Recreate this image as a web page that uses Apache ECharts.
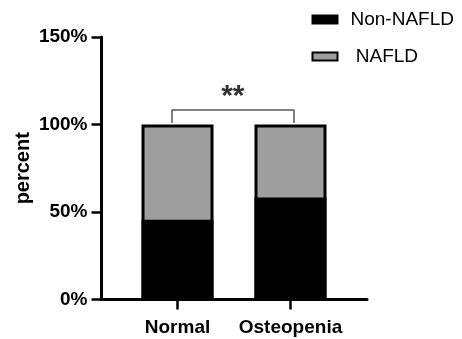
<!DOCTYPE html>
<html>
<head>
<meta charset="utf-8">
<script src="https://cdn.jsdelivr.net/npm/echarts@6/dist/echarts.min.js"></script>
<style>html,body{margin:0;padding:0;background:#fff}#c{width:462px;height:339px}</style>
</head>
<body>
<div id="c"></div>
<script>
const categories = ['Normal', 'Osteopenia'];
const nonNafld = [45.6, 58.3];
const nafld = [54.4, 41.7];
const seriesNames = ['Non-NAFLD', 'NAFLD'];
const yTicks = [0, 50, 100, 150];
const significance = '**';

const FONT = 'Liberation Sans, Arial, Helvetica, sans-serif';
const chart = echarts.init(document.getElementById('c'), null, {renderer: 'canvas'});
const catIdx = categories.map((_, i) => i);
// NAFLD sits on top of Non-NAFLD: draw its bar from 0 to the running total, Non-NAFLD drawn over it
const nafldTop = nafld.map((v, i) => v + nonNafld[i]);

chart.setOption({
  animation: false,
  backgroundColor: '#fff',
  grid: {left: 101.5, right: 95, top: 37, bottom: 39.5, containLabel: false},
  legend: {
    orient: 'vertical',
    left: 306.5,
    top: 4.5,
    itemWidth: 25,
    itemHeight: 8,
    itemGap: 17,
    icon: 'rect',
    data: seriesNames,
    formatter: n => n === 'NAFLD' ? ' NAFLD' : n,
    textStyle: {fontFamily: FONT, fontSize: 19, color: '#000', lineHeight: 20, padding: [0, 0, 0, 8]}
  },
  xAxis: {
    type: 'value',
    min: -0.6726,
    max: 1.677,
    splitLine: {show: false},
    axisLine: {show: true, onZero: false, lineStyle: {color: '#000', width: 3}},
    axisTick: {show: true, customValues: catIdx, length: 10, lineStyle: {color: '#000', width: 2.5}},
    axisLabel: {
      customValues: catIdx,
      formatter: v => categories[Math.round(v)] || '',
      fontFamily: FONT, fontSize: 19, fontWeight: 'bold', color: '#000', margin: 19
    }
  },
  yAxis: {
    type: 'value',
    min: 0, max: 150, interval: 50,
    name: 'percent',
    nameLocation: 'middle',
    nameGap: 68,
    nameMoveOverlap: false,
    nameTextStyle: {fontFamily: FONT, fontSize: 20, fontWeight: 'bold', color: '#000'},
    splitLine: {show: false},
    axisLine: {show: true, onZero: false, lineStyle: {color: '#000', width: 3}},
    axisTick: {show: true, length: 10, lineStyle: {color: '#000', width: 2.5}},
    axisLabel: {formatter: '{value}%', fontFamily: FONT, fontSize: 19, fontWeight: 'bold', color: '#000', margin: 14}
  },
  series: [
    {
      name: seriesNames[1], type: 'bar', barWidth: 72, barGap: '-100%', z: 2,
      data: nafldTop.map((v, i) => [i, v]),
      itemStyle: {color: '#9e9e9e', borderColor: '#000', borderWidth: 3}
    },
    {
      name: seriesNames[0], type: 'bar', barWidth: 72, barGap: '-100%', z: 3,
      data: nonNafld.map((v, i) => [i, v]),
      itemStyle: {color: '#000', borderColor: '#000', borderWidth: 3}
    },
    {
      name: 'bracket', type: 'line', silent: true, symbol: 'none', legendHoverLink: false,
      data: [[-0.049, 100.9], [-0.049, 108.3], [1.031, 108.3], [1.031, 100.9]],
      lineStyle: {color: '#555', width: 1.5}, z: 5
    },
    {
      name: 'sig', type: 'scatter', silent: true, symbolSize: 0,
      data: [[0.49, 116]],
      label: {show: true, position: 'inside', formatter: significance, fontFamily: FONT, fontSize: 30, fontWeight: 'bold', color: '#000'}
    }
  ]
});
</script>
</body>
</html>
